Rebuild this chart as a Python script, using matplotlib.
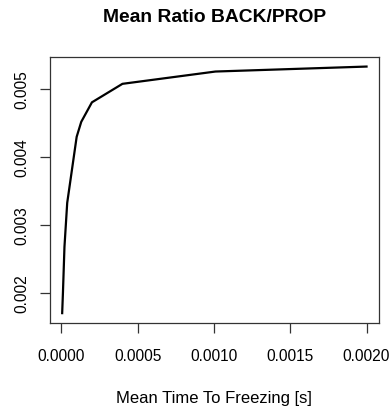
import matplotlib
matplotlib.use("Agg")
import matplotlib.pyplot as plt

# Mean time to freezing [s] and the corresponding BACK/PROP ratio
time_to_freezing = [5e-6, 1e-5, 2e-5, 3.8e-5, 1e-4, 1.3e-4, 2e-4, 4e-4, 1.01e-3, 2e-3]
ratio_back_prop = [0.001706, 0.002004, 0.002681, 0.003328, 0.004299,
                   0.004519, 0.004806, 0.005078, 0.005259, 0.005332]

x_ticks = [0.0, 0.0005, 0.0010, 0.0015, 0.0020]
x_tick_labels = ["0.0000", "0.0005", "0.0010", "0.0015", "0.0020"]
y_ticks = [0.002, 0.003, 0.004, 0.005]
y_tick_labels = ["0.002", "0.003", "0.004", "0.005"]

plt.rcParams["font.family"] = ["Liberation Sans", "DejaVu Sans"]

fig = plt.figure(figsize=(3.9, 4.08), dpi=100)
ax = fig.add_axes([50 / 390, 1 - 323 / 408, (378.7 - 50) / 390, (323 - 56.7) / 408])

ax.plot(time_to_freezing, ratio_back_prop, color="black", lw=1.6,
        solid_joinstyle="round")

# R-style 4% padding around the data range
xmin, xmax = min(time_to_freezing), max(time_to_freezing)
ymin, ymax = min(ratio_back_prop), max(ratio_back_prop)
dx, dy = 0.04 * (xmax - xmin), 0.04 * (ymax - ymin)
ax.set_xlim(xmin - dx, xmax + dx)
ax.set_ylim(ymin - dy, ymax + dy)

ax.set_xticks(x_ticks)
ax.set_xticklabels(x_tick_labels)
ax.set_yticks(y_ticks)
ax.set_yticklabels(y_tick_labels, rotation=90, va="center")

for s in ax.spines.values():
    s.set_color("#333333")
    s.set_linewidth(0.9)
ax.tick_params(axis="both", length=7, width=0.9, color="#333333",
               labelsize=11.2, labelcolor="black")
ax.tick_params(axis="x", pad=12)
ax.tick_params(axis="y", pad=8)

ax.set_xlabel("Mean Time To Freezing [s]", fontsize=12, labelpad=19)
fig.text((50 + 378.7) / 2 / 390, 1 - 17 / 408, "Mean Ratio BACK/PROP",
         ha="center", va="center", fontsize=13.9, fontweight="bold")

fig.savefig("out.png", dpi=100)
